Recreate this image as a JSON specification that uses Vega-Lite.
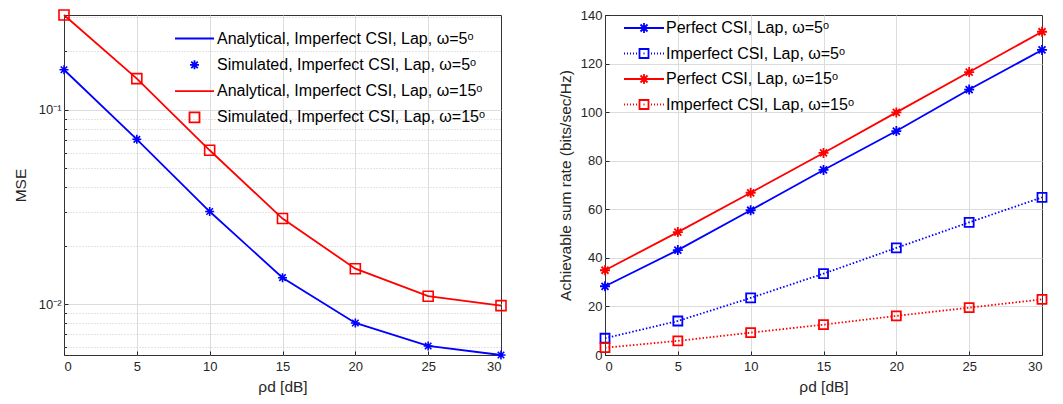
{
  "$schema": "https://vega.github.io/schema/vega-lite/v6.json",
  "background": "white",
  "padding": {"left": 12, "top": 6, "right": 5, "bottom": 5},
  "bounds": "flush",
  "spacing": 104,
  "resolve": {"scale": {"color": "independent", "shape": "independent"}, "legend": {"color": "independent", "shape": "independent"}},
  "config": {
    "font": "Liberation Sans",
    "view": {"stroke": "#333333", "strokeWidth": 1},
    "axis": {
      "domain": false,
      "labelFont": "Liberation Sans",
      "labelFontSize": 13,
      "labelColor": "#262626",
      "titleFont": "Liberation Sans",
      "titleFontSize": 15.5,
      "titleFontWeight": "normal",
      "titleColor": "#262626",
      "tickColor": "#262626",
      "tickSize": -4,
      "labelPadding": 7,
      "gridColor": "#dcdcdc",
      "gridWidth": 1
    },
    "legend": {"labelFont": "Liberation Sans", "labelFontSize": 16, "labelColor": "#000000", "labelLimit": 600, "padding": 0}
  },
  "datasets": {
    "mse": [
      {"rho": 0, "mse": 0.161, "series": "Analytical, Imperfect CSI, Lap, ω=5ᵒ"},
      {"rho": 5, "mse": 0.0706, "series": "Analytical, Imperfect CSI, Lap, ω=5ᵒ"},
      {"rho": 10, "mse": 0.0300, "series": "Analytical, Imperfect CSI, Lap, ω=5ᵒ"},
      {"rho": 15, "mse": 0.0137, "series": "Analytical, Imperfect CSI, Lap, ω=5ᵒ"},
      {"rho": 20, "mse": 0.00801, "series": "Analytical, Imperfect CSI, Lap, ω=5ᵒ"},
      {"rho": 25, "mse": 0.0061, "series": "Analytical, Imperfect CSI, Lap, ω=5ᵒ"},
      {"rho": 30, "mse": 0.00548, "series": "Analytical, Imperfect CSI, Lap, ω=5ᵒ"},
      {"rho": 0, "mse": 0.161, "series": "Simulated, Imperfect CSI, Lap, ω=5ᵒ"},
      {"rho": 5, "mse": 0.0706, "series": "Simulated, Imperfect CSI, Lap, ω=5ᵒ"},
      {"rho": 10, "mse": 0.0300, "series": "Simulated, Imperfect CSI, Lap, ω=5ᵒ"},
      {"rho": 15, "mse": 0.0137, "series": "Simulated, Imperfect CSI, Lap, ω=5ᵒ"},
      {"rho": 20, "mse": 0.00801, "series": "Simulated, Imperfect CSI, Lap, ω=5ᵒ"},
      {"rho": 25, "mse": 0.0061, "series": "Simulated, Imperfect CSI, Lap, ω=5ᵒ"},
      {"rho": 30, "mse": 0.00548, "series": "Simulated, Imperfect CSI, Lap, ω=5ᵒ"},
      {"rho": 0, "mse": 0.308, "series": "Analytical, Imperfect CSI, Lap, ω=15ᵒ"},
      {"rho": 5, "mse": 0.145, "series": "Analytical, Imperfect CSI, Lap, ω=15ᵒ"},
      {"rho": 10, "mse": 0.062, "series": "Analytical, Imperfect CSI, Lap, ω=15ᵒ"},
      {"rho": 15, "mse": 0.0276, "series": "Analytical, Imperfect CSI, Lap, ω=15ᵒ"},
      {"rho": 20, "mse": 0.01524, "series": "Analytical, Imperfect CSI, Lap, ω=15ᵒ"},
      {"rho": 25, "mse": 0.011, "series": "Analytical, Imperfect CSI, Lap, ω=15ᵒ"},
      {"rho": 30, "mse": 0.00984, "series": "Analytical, Imperfect CSI, Lap, ω=15ᵒ"},
      {"rho": 0, "mse": 0.308, "series": "Simulated, Imperfect CSI, Lap, ω=15ᵒ"},
      {"rho": 5, "mse": 0.145, "series": "Simulated, Imperfect CSI, Lap, ω=15ᵒ"},
      {"rho": 10, "mse": 0.062, "series": "Simulated, Imperfect CSI, Lap, ω=15ᵒ"},
      {"rho": 15, "mse": 0.0276, "series": "Simulated, Imperfect CSI, Lap, ω=15ᵒ"},
      {"rho": 20, "mse": 0.01524, "series": "Simulated, Imperfect CSI, Lap, ω=15ᵒ"},
      {"rho": 25, "mse": 0.011, "series": "Simulated, Imperfect CSI, Lap, ω=15ᵒ"},
      {"rho": 30, "mse": 0.00984, "series": "Simulated, Imperfect CSI, Lap, ω=15ᵒ"}
    ],
    "rate": [
      {"rho": 0, "rate": 28.3, "series": "Perfect CSI, Lap, ω=5ᵒ"},
      {"rho": 5, "rate": 43.2, "series": "Perfect CSI, Lap, ω=5ᵒ"},
      {"rho": 10, "rate": 59.6, "series": "Perfect CSI, Lap, ω=5ᵒ"},
      {"rho": 15, "rate": 76.2, "series": "Perfect CSI, Lap, ω=5ᵒ"},
      {"rho": 20, "rate": 92.2, "series": "Perfect CSI, Lap, ω=5ᵒ"},
      {"rho": 25, "rate": 109.3, "series": "Perfect CSI, Lap, ω=5ᵒ"},
      {"rho": 30, "rate": 125.6, "series": "Perfect CSI, Lap, ω=5ᵒ"},
      {"rho": 0, "rate": 6.9, "series": "Imperfect CSI, Lap, ω=5ᵒ"},
      {"rho": 5, "rate": 14.0, "series": "Imperfect CSI, Lap, ω=5ᵒ"},
      {"rho": 10, "rate": 23.5, "series": "Imperfect CSI, Lap, ω=5ᵒ"},
      {"rho": 15, "rate": 33.5, "series": "Imperfect CSI, Lap, ω=5ᵒ"},
      {"rho": 20, "rate": 44.1, "series": "Imperfect CSI, Lap, ω=5ᵒ"},
      {"rho": 25, "rate": 54.6, "series": "Imperfect CSI, Lap, ω=5ᵒ"},
      {"rho": 30, "rate": 64.9, "series": "Imperfect CSI, Lap, ω=5ᵒ"},
      {"rho": 0, "rate": 34.9, "series": "Perfect CSI, Lap, ω=15ᵒ"},
      {"rho": 5, "rate": 50.6, "series": "Perfect CSI, Lap, ω=15ᵒ"},
      {"rho": 10, "rate": 66.8, "series": "Perfect CSI, Lap, ω=15ᵒ"},
      {"rho": 15, "rate": 83.2, "series": "Perfect CSI, Lap, ω=15ᵒ"},
      {"rho": 20, "rate": 99.9, "series": "Perfect CSI, Lap, ω=15ᵒ"},
      {"rho": 25, "rate": 116.5, "series": "Perfect CSI, Lap, ω=15ᵒ"},
      {"rho": 30, "rate": 133.1, "series": "Perfect CSI, Lap, ω=15ᵒ"},
      {"rho": 0, "rate": 3.0, "series": "Imperfect CSI, Lap, ω=15ᵒ"},
      {"rho": 5, "rate": 5.8, "series": "Imperfect CSI, Lap, ω=15ᵒ"},
      {"rho": 10, "rate": 9.2, "series": "Imperfect CSI, Lap, ω=15ᵒ"},
      {"rho": 15, "rate": 12.5, "series": "Imperfect CSI, Lap, ω=15ᵒ"},
      {"rho": 20, "rate": 16.1, "series": "Imperfect CSI, Lap, ω=15ᵒ"},
      {"rho": 25, "rate": 19.5, "series": "Imperfect CSI, Lap, ω=15ᵒ"},
      {"rho": 30, "rate": 22.9, "series": "Imperfect CSI, Lap, ω=15ᵒ"}
    ]
  },
  "hconcat": [
    {
      "width": 437,
      "height": 340,
      "data": {"name": "mse"},
      "encoding": {
        "x": {"field": "rho", "type": "quantitative", "scale": {"domain": [0, 30], "nice": false, "zero": false},
              "axis": {"values": [0, 5, 10, 15, 20, 25, 30], "title": "ρd [dB]", "titlePadding": 6, "labelPadding": 9,
                       "gridOpacity": {"condition": {"test": "datum.value == 0 || datum.value == 30", "value": 0}, "value": 1}}},
        "y": {"field": "mse", "type": "quantitative", "scale": {"type": "log", "domain": [0.00548, 0.308], "nice": false},
              "axis": {"title": "MSE", "titlePadding": 10,
                       "values": [0.006, 0.007, 0.008, 0.009, 0.01, 0.02, 0.03, 0.04, 0.05, 0.06, 0.07, 0.08, 0.09, 0.1, 0.2, 0.3],
                       "labelExpr": "datum.value == 0.1 ? '10⁻¹' : (datum.value == 0.01 ? '10⁻²' : '')",
                       "gridDash": {"condition": {"test": "datum.value == 0.1 || datum.value == 0.01", "value": []}, "value": [1, 2]},
                       "gridColor": {"condition": {"test": "datum.value == 0.1 || datum.value == 0.01", "value": "#dcdcdc"}, "value": "#c8c8c8"},
                       "tickSize": {"condition": {"test": "datum.value == 0.1 || datum.value == 0.01", "value": -4}, "value": -2.5}}},
        "color": {"field": "series", "type": "nominal",
                  "scale": {"domain": ["Analytical, Imperfect CSI, Lap, ω=5ᵒ", "Simulated, Imperfect CSI, Lap, ω=5ᵒ", "Analytical, Imperfect CSI, Lap, ω=15ᵒ", "Simulated, Imperfect CSI, Lap, ω=15ᵒ"],
                            "range": ["#0000ff", "#0000ff", "#ff0000", "#ff0000"]},
                  "legend": {"title": null, "orient": "none", "legendX": 122.5, "legendY": 15.5, "symbolSize": 100, "symbolStrokeWidth": 1.8, "labelOffset": 14.5, "rowPadding": 9.3}}
      },
      "layer": [
        {
          "transform": [{"filter": "test(/^Analytical/, datum.series)"}],
          "mark": {"type": "line", "strokeWidth": 1.8}
        },
        {
          "transform": [{"filter": "test(/^Simulated/, datum.series)"}],
          "mark": {"type": "point", "filled": false, "strokeWidth": 1.6, "size": 100, "opacity": 1},
          "encoding": {
            "shape": {"field": "series", "type": "nominal",
                      "scale": {"domain": ["Analytical, Imperfect CSI, Lap, ω=5ᵒ", "Simulated, Imperfect CSI, Lap, ω=5ᵒ", "Analytical, Imperfect CSI, Lap, ω=15ᵒ", "Simulated, Imperfect CSI, Lap, ω=15ᵒ"],
                                "range": ["M-3.9,0H3.9", "M-0.9,0H0.9M0,-0.9V0.9M-0.65,-0.65L0.65,0.65M-0.65,0.65L0.65,-0.65", "M-3.9,0H3.9", "M-1,-1H1V1H-1Z"]},
                      "legend": {"title": null, "orient": "none", "legendX": 122.5, "legendY": 15.5, "symbolSize": 100, "symbolStrokeWidth": 1.8, "labelOffset": 14.5, "rowPadding": 9.3}}
          }
        }
      ]
    },
    {
      "width": 437,
      "height": 340,
      "data": {"name": "rate"},
      "resolve": {"scale": {"color": "independent", "shape": "independent"}},
      "encoding": {
        "x": {"field": "rho", "type": "quantitative", "scale": {"domain": [0, 30], "nice": false, "zero": false},
              "axis": {"values": [0, 5, 10, 15, 20, 25, 30], "title": "ρd [dB]", "titlePadding": 6, "labelPadding": 9,
                       "gridOpacity": {"condition": {"test": "datum.value == 0 || datum.value == 30", "value": 0}, "value": 1}}},
        "y": {"field": "rate", "type": "quantitative", "scale": {"domain": [0, 140], "nice": false},
              "axis": {"values": [0, 20, 40, 60, 80, 100, 120, 140], "title": "Achievable sum rate (bits/sec/Hz)", "titlePadding": 7,
                       "gridOpacity": {"condition": {"test": "datum.value == 0 || datum.value == 140", "value": 0}, "value": 1}}}
      },
      "layer": [
        {
          "transform": [{"filter": "test(/^Perfect/, datum.series)"}],
          "mark": {"type": "line", "strokeWidth": 1.8},
          "encoding": {
            "color": {"field": "series", "type": "nominal", "legend": null,
                      "scale": {"domain": ["Perfect CSI, Lap, ω=5ᵒ", "Imperfect CSI, Lap, ω=5ᵒ", "Perfect CSI, Lap, ω=15ᵒ", "Imperfect CSI, Lap, ω=15ᵒ"],
                                "range": ["#0000ff", "#0000ff", "#ff0000", "#ff0000"]}}
          }
        },
        {
          "transform": [{"filter": "test(/^Imperfect/, datum.series)"}],
          "mark": {"type": "line", "strokeWidth": 1.8, "strokeDash": [1.5, 2]},
          "encoding": {
            "color": {"field": "series", "type": "nominal", "legend": null,
                      "scale": {"domain": ["Perfect CSI, Lap, ω=5ᵒ", "Imperfect CSI, Lap, ω=5ᵒ", "Perfect CSI, Lap, ω=15ᵒ", "Imperfect CSI, Lap, ω=15ᵒ"],
                                "range": ["#0000ff", "#0000ff", "#ff0000", "#ff0000"]}}
          }
        },
        {
          "mark": {"type": "point", "filled": false, "strokeWidth": 1.8, "size": 100, "opacity": 1},
          "encoding": {
            "color": {"field": "series", "type": "nominal", "legend": null,
                      "scale": {"domain": ["Perfect CSI, Lap, ω=5ᵒ", "Imperfect CSI, Lap, ω=5ᵒ", "Perfect CSI, Lap, ω=15ᵒ", "Imperfect CSI, Lap, ω=15ᵒ"],
                                "range": ["#0000ff", "#0000ff", "#ff0000", "#ff0000"]}},
            "shape": {"field": "series", "type": "nominal", "legend": null,
                      "scale": {"domain": ["Perfect CSI, Lap, ω=5ᵒ", "Imperfect CSI, Lap, ω=5ᵒ", "Perfect CSI, Lap, ω=15ᵒ", "Imperfect CSI, Lap, ω=15ᵒ"],
                                "range": ["M-1,0H1M0,-1V1M-0.7,-0.7L0.7,0.7M-0.7,0.7L0.7,-0.7", "M-0.9,-0.9H0.9V0.9H-0.9Z", "M-1,0H1M0,-1V1M-0.7,-0.7L0.7,0.7M-0.7,0.7L0.7,-0.7", "M-0.9,-0.9H0.9V0.9H-0.9Z"]}}
          }
        },
        {
          "transform": [{"filter": "false"}],
          "mark": {"type": "point", "filled": false, "strokeWidth": 1.8, "size": 100, "opacity": 1},
          "encoding": {
            "color": {"field": "series", "type": "nominal",
                      "scale": {"domain": ["Perfect CSI, Lap, ω=5ᵒ", "Imperfect CSI, Lap, ω=5ᵒ", "Perfect CSI, Lap, ω=15ᵒ", "Imperfect CSI, Lap, ω=15ᵒ"],
                                "range": ["#0000ff", "#0000ff", "#ff0000", "#ff0000"]},
                      "legend": {"title": null, "orient": "none", "legendX": 31, "legendY": 5, "symbolSize": 100, "symbolStrokeWidth": 1.8, "labelOffset": 14, "rowPadding": 7.5}},
            "shape": {"field": "series", "type": "nominal",
                      "scale": {"domain": ["Perfect CSI, Lap, ω=5ᵒ", "Imperfect CSI, Lap, ω=5ᵒ", "Perfect CSI, Lap, ω=15ᵒ", "Imperfect CSI, Lap, ω=15ᵒ"],
                                "range": ["M-4,0H4M-1,0H1M0,-1V1M-0.7,-0.7L0.7,0.7M-0.7,0.7L0.7,-0.7", "M-4,0H-3.8M-3.4,0H-3.2M-2.8,0H-2.6M-2.2,0H-2M-1.6,0H-1.4M-0.1,0H0.1M1.4,0H1.6M2,0H2.2M2.6,0H2.8M3.2,0H3.4M3.8,0H4M-0.9,-0.9H0.9V0.9H-0.9Z", "M-4,0H4M-1,0H1M0,-1V1M-0.7,-0.7L0.7,0.7M-0.7,0.7L0.7,-0.7", "M-4,0H-3.8M-3.4,0H-3.2M-2.8,0H-2.6M-2.2,0H-2M-1.6,0H-1.4M-0.1,0H0.1M1.4,0H1.6M2,0H2.2M2.6,0H2.8M3.2,0H3.4M3.8,0H4M-0.9,-0.9H0.9V0.9H-0.9Z"]},
                      "legend": {"title": null, "orient": "none", "legendX": 31, "legendY": 5, "symbolSize": 100, "symbolStrokeWidth": 1.8, "labelOffset": 14, "rowPadding": 7.5}}
          }
        }
      ]
    }
  ]
}
